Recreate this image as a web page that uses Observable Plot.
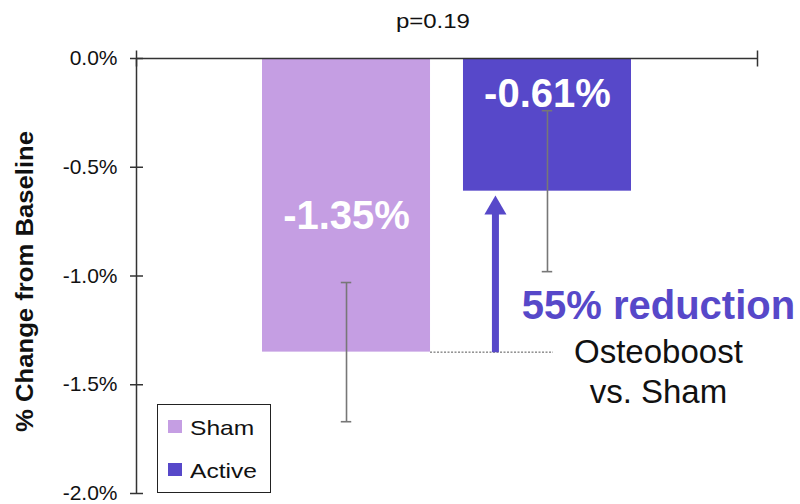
<!DOCTYPE html>
<html><head><meta charset="utf-8">
<script src="https://cdn.jsdelivr.net/npm/d3@7"></script>
<script src="https://cdn.jsdelivr.net/npm/@observablehq/plot@0.6"></script>
<style>
body{margin:0;background:#fff;font-family:"Liberation Sans",Arial,sans-serif;}
#wrap{position:relative;width:800px;height:504px;overflow:hidden;}
#wrap svg{display:block;}
#legend{position:absolute;left:157px;top:404px;width:114px;height:89px;box-sizing:border-box;border:1.5px solid #222;background:#fff;}
.sw{position:absolute;left:10px;width:14px;height:13px;}
.lt{position:absolute;left:32px;font-size:21px;line-height:21px;color:#111;white-space:nowrap;transform:scaleX(1.17);transform-origin:left center;}
</style></head><body><div id="wrap"></div>
<script>
// ---- data ----
const groups = ["Sham", "Active"];
const values = [-1.35, -0.61];
const errors = [0.32, 0.37];
const colors = ["#c59ee3", "#5748c9"];
const yTicks = [0, -0.5, -1.0, -1.5, -2.0];
const pLabel = "p=0.19";
const compareLabel = "Osteoboost\nvs. Sham";
const yLabel = "% Change from Baseline";

// ---- derived table ----
const table = groups.map((g, i) => ({
  group: g, i, value: values[i],
  lo: values[i] - errors[i], hi: values[i] + errors[i],
  label: values[i].toFixed(2) + "%"
}));
const reductionLabel = Math.round((1 - values[1] / values[0]) * 100) + "% reduction";

// ---- layout constants (in x units: one step between bars) ----
const xDomain = [-1.045, 2.045];
const HW = 0.418;      // bar half width
const CAP = 0.026;     // error cap half width
const arrowX = 0.741;
const noteX = 1.552;
const accent = colors[1];
const axisColor = "#333";
const font = "Liberation Sans, Arial, sans-serif";

const vtick = {draw(ctx, size) { const h = Math.sqrt(size / Math.PI); ctx.moveTo(0, -h); ctx.lineTo(0, h); }};

const chart = Plot.plot({
  width: 800, height: 504,
  marginLeft: 136, marginRight: 43, marginTop: 58, marginBottom: 11,
  style: {fontFamily: font, fontSize: "21px", background: "white", color: "#111"},
  x: {domain: xDomain, axis: null},
  y: {domain: [-2, 0]},
  color: {domain: groups, range: colors},
  marks: [
    Plot.rect(table, {x1: d => d.i - HW, x2: d => d.i + HW, y1: d => 0, y2: "value", fill: "group"}),
    Plot.ruleY([0], {stroke: axisColor, strokeWidth: 1.5}),
    Plot.ruleX([xDomain[0]], {y1: d => -2, y2: d => 0, stroke: axisColor, strokeWidth: 1.5}),
    Plot.dot(xDomain, {x: d => d, y: d => 0, symbol: vtick, r: 8, stroke: axisColor, fill: "none", strokeWidth: 1.5}),
    Plot.axisY(yTicks, {tickFormat: d => d.toFixed(1) + "%", tickSize: 13, tickPadding: 13, dx: 7, fontSize: 21, label: null, stroke: axisColor, strokeWidth: 1.5}),
    Plot.ruleX(table, {x: "i", y1: "lo", y2: "hi", stroke: "#777", strokeWidth: 1.6}),
    Plot.ruleY(table, {y: "lo", x1: d => d.i - CAP, x2: d => d.i + CAP, stroke: "#777", strokeWidth: 1.6}),
    Plot.ruleY(table, {y: "hi", x1: d => d.i - CAP, x2: d => d.i + CAP, stroke: "#777", strokeWidth: 1.6}),
    Plot.ruleY([values[0]], {x1: d => HW, x2: d => 1.03, stroke: "#555", strokeWidth: 1, strokeDasharray: "2,1.5"}),
    Plot.arrow([0], {x1: d => arrowX, x2: d => arrowX, y1: d => values[0], y2: d => values[1], headLength: 0, insetEnd: 20, stroke: accent, strokeWidth: 7, strokeLinecap: "butt"}),
    Plot.dot([0], {x: d => arrowX, y: d => values[1], symbol: "triangle", r: 8.2, fill: accent, stroke: "none", dy: 17}),
    Plot.text(table.filter(d => d.group === "Sham"), {x: "i", y: d => 0, text: "label", dy: 170, lineAnchor: "bottom", fill: "white", fontWeight: "bold", fontSize: 40}),
    Plot.text(table.filter(d => d.group === "Active"), {x: "i", y: d => 0, text: "label", dy: 48, lineAnchor: "bottom", fill: "white", fontWeight: "bold", fontSize: 40}),
    Plot.text([reductionLabel], {x: d => noteX, y: d => values[0], text: d => d, dy: -33, lineAnchor: "bottom", fill: accent, fontWeight: "bold", fontSize: 40}),
    Plot.text([compareLabel], {x: d => noteX, y: d => values[0], text: d => d, dy: 51, lineAnchor: "bottom", fill: "#111", fontSize: 33, lineHeight: 1.212}),
    Plot.text([pLabel], {x: d => 0.43, y: d => 0, text: d => d, dy: -31, lineAnchor: "bottom", fill: "#111", fontSize: 20}),
    Plot.text([yLabel], {frameAnchor: "left", text: d => d, rotate: -90, dx: -104, dy: 5.5, textAnchor: "middle", lineAnchor: "bottom", fill: "#111", fontWeight: "bold", fontSize: 24})
  ]
});

// stretch some labels horizontally (along their own direction) to match the reference
function stretch(txt, s) {
  d3.select(chart).selectAll("text").filter(function() { return this.textContent === txt; }).each(function() {
    const t = this.getAttribute("transform");
    if (t) this.setAttribute("transform", t + ` scale(${s},1)`);
    else {
      const x = +this.getAttribute("x") || 0;
      this.setAttribute("transform", `translate(${x * (1 - s)},0) scale(${s},1)`);
    }
  });
}
stretch(pLabel, 1.2);
stretch(yLabel, 1.07);

const wrap = document.getElementById("wrap");
wrap.appendChild(chart);

// legend (HTML overlay inside the plot area)
const legend = document.createElement("div");
legend.id = "legend";
const swTops = [15, 58], txtTops = [12, 55];
groups.forEach((g, i) => {
  const sw = document.createElement("div");
  sw.className = "sw"; sw.style.top = swTops[i] + "px"; sw.style.background = colors[i];
  const t = document.createElement("div");
  t.className = "lt"; t.style.top = txtTops[i] + "px"; t.textContent = g;
  legend.appendChild(sw); legend.appendChild(t);
});
wrap.appendChild(legend);
</script></body></html>
